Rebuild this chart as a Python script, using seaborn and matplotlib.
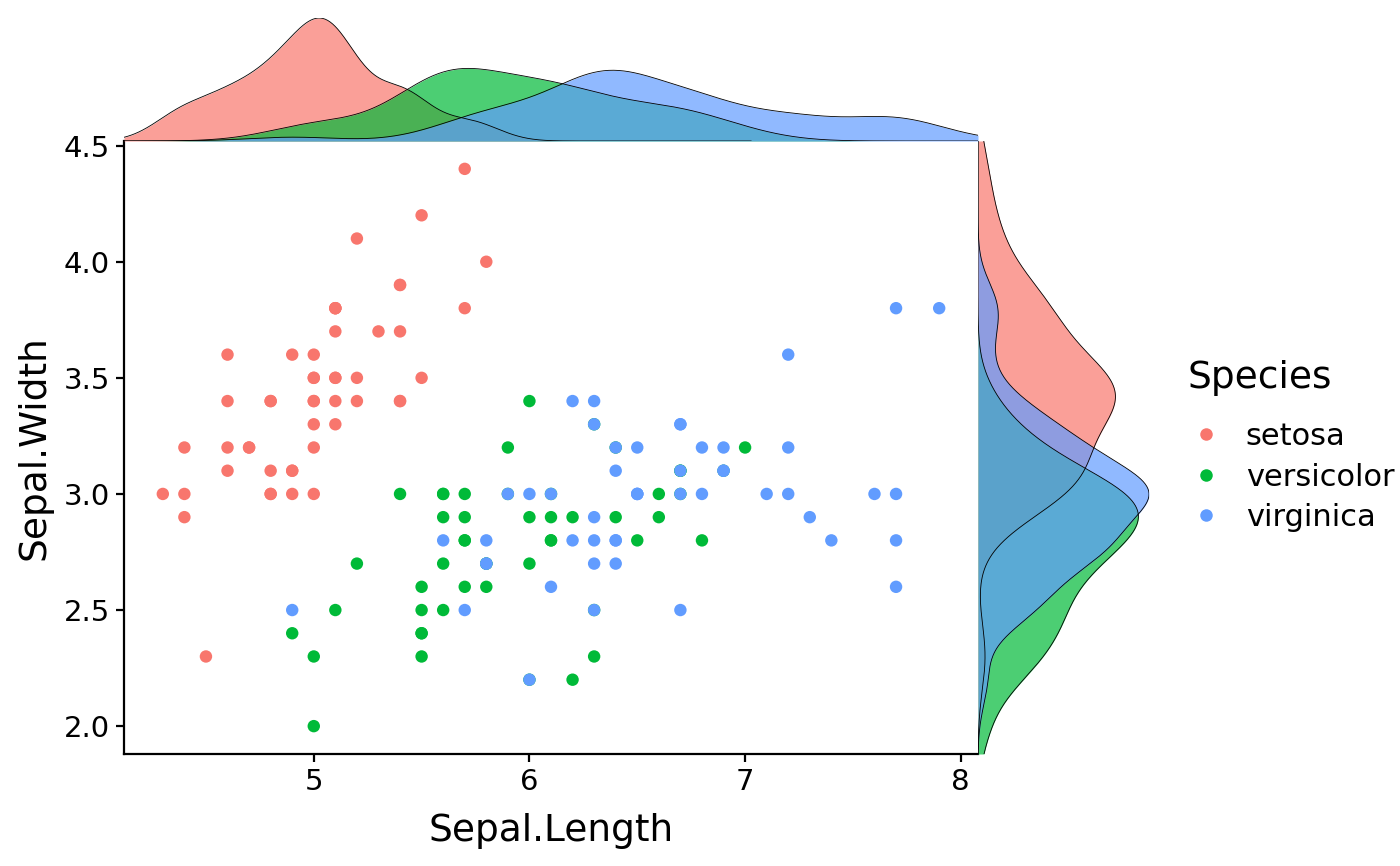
import numpy as np
import pandas as pd
import matplotlib
matplotlib.use('Agg')
import matplotlib.pyplot as plt
from matplotlib.lines import Line2D
import seaborn as sns

# iris sepal measurements, by species
setosa_length = [5.1, 4.9, 4.7, 4.6, 5.0, 5.4, 4.6, 5.0, 4.4, 4.9, 5.4, 4.8, 4.8, 4.3, 5.8, 5.7, 5.4,
                 5.1, 5.7, 5.1, 5.4, 5.1, 4.6, 5.1, 4.8, 5.0, 5.0, 5.2, 5.2, 4.7, 4.8, 5.4, 5.2, 5.5,
                 4.9, 5.0, 5.5, 4.9, 4.4, 5.1, 5.0, 4.5, 4.4, 5.0, 5.1, 4.8, 5.1, 4.6, 5.3, 5.0]
setosa_width = [3.5, 3.0, 3.2, 3.1, 3.6, 3.9, 3.4, 3.4, 2.9, 3.1, 3.7, 3.4, 3.0, 3.0, 4.0, 4.4, 3.9,
                3.5, 3.8, 3.8, 3.4, 3.7, 3.6, 3.3, 3.4, 3.0, 3.4, 3.5, 3.4, 3.2, 3.1, 3.4, 4.1, 4.2,
                3.1, 3.2, 3.5, 3.6, 3.0, 3.4, 3.5, 2.3, 3.2, 3.5, 3.8, 3.0, 3.8, 3.2, 3.7, 3.3]
versicolor_length = [7.0, 6.4, 6.9, 5.5, 6.5, 5.7, 6.3, 4.9, 6.6, 5.2, 5.0, 5.9, 6.0, 6.1, 5.6, 6.7,
                     5.6, 5.8, 6.2, 5.6, 5.9, 6.1, 6.3, 6.1, 6.4, 6.6, 6.8, 6.7, 6.0, 5.7, 5.5, 5.5,
                     5.8, 6.0, 5.4, 6.0, 6.7, 6.3, 5.6, 5.5, 5.5, 6.1, 5.8, 5.0, 5.6, 5.7, 5.7, 6.2,
                     5.1, 5.7]
versicolor_width = [3.2, 3.2, 3.1, 2.3, 2.8, 2.8, 3.3, 2.4, 2.9, 2.7, 2.0, 3.0, 2.2, 2.9, 2.9, 3.1,
                    3.0, 2.7, 2.2, 2.5, 3.2, 2.8, 2.5, 2.8, 2.9, 3.0, 2.8, 3.0, 2.9, 2.6, 2.4, 2.4,
                    2.7, 2.7, 3.0, 3.4, 3.1, 2.3, 3.0, 2.5, 2.6, 3.0, 2.6, 2.3, 2.7, 3.0, 2.9, 2.9,
                    2.5, 2.8]
virginica_length = [6.3, 5.8, 7.1, 6.3, 6.5, 7.6, 4.9, 7.3, 6.7, 7.2, 6.5, 6.4, 6.8, 5.7, 5.8, 6.4,
                    6.5, 7.7, 7.7, 6.0, 6.9, 5.6, 7.7, 6.3, 6.7, 7.2, 6.2, 6.1, 6.4, 7.2, 7.4, 7.9,
                    6.4, 6.3, 6.1, 7.7, 6.3, 6.4, 6.0, 6.9, 6.7, 6.9, 5.8, 6.8, 6.7, 6.7, 6.3, 6.5,
                    6.2, 5.9]
virginica_width = [3.3, 2.7, 3.0, 2.9, 3.0, 3.0, 2.5, 2.9, 2.5, 3.6, 3.2, 2.7, 3.0, 2.5, 2.8, 3.2,
                   3.0, 3.8, 2.6, 2.2, 3.2, 2.8, 2.8, 2.7, 3.3, 3.2, 2.8, 3.0, 2.8, 3.0, 2.8, 3.8,
                   2.8, 2.8, 2.6, 3.0, 3.4, 3.1, 3.0, 3.1, 3.1, 3.1, 2.7, 3.2, 3.3, 3.0, 2.5, 3.0,
                   3.4, 3.0]

species = ['setosa', 'versicolor', 'virginica']
colors = {'setosa': '#F8766D', 'versicolor': '#00BA38', 'virginica': '#619CFF'}

df = pd.concat([
    pd.DataFrame({'Sepal.Length': setosa_length, 'Sepal.Width': setosa_width, 'Species': 'setosa'}),
    pd.DataFrame({'Sepal.Length': versicolor_length, 'Sepal.Width': versicolor_width, 'Species': 'versicolor'}),
    pd.DataFrame({'Sepal.Length': virginica_length, 'Sepal.Width': virginica_width, 'Species': 'virginica'}),
], ignore_index=True)

sns.set_theme(style='ticks')
plt.rcParams['font.family'] = ['DejaVu Sans']
plt.rcParams['text.color'] = 'black'

W, H = 1400, 866
fig = plt.figure(figsize=(W / 100, H / 100), dpi=100)
ax = fig.add_axes([124 / W, 112 / H, 854 / W, 613 / H])
ax_top = fig.add_axes([124 / W, 725 / H, 854 / W, 123 / H])
ax_right = fig.add_axes([978 / W, 112 / H, 171 / W, 613 / H])

# limits like ggplot: data range plus 5%
def expanded(vals):
    lo, hi = min(vals), max(vals)
    pad = (hi - lo) * 0.05
    return lo - pad, hi + pad

xlim = expanded(df['Sepal.Length'])
ylim = expanded(df['Sepal.Width'])

sns.scatterplot(data=df, x='Sepal.Length', y='Sepal.Width', hue='Species', palette=colors,
                s=80, linewidth=0, legend=False, ax=ax)
ax.set_xlim(xlim)
ax.set_ylim(ylim)
ax.set_xticks([5, 6, 7, 8])
ax.set_yticks([2.0, 2.5, 3.0, 3.5, 4.0, 4.5])
ax.set_yticklabels(['2.0', '2.5', '3.0', '3.5', '4.0', '4.5'])
ax.tick_params(labelsize=21, length=6, width=1.6, color='black', labelcolor='black', pad=4)
ax.set_xlabel('Sepal.Length', fontsize=27, color='black', labelpad=12)
ax.set_ylabel('Sepal.Width', fontsize=27, color='black', labelpad=8)
sns.despine(ax=ax)
for sp in ['left', 'bottom']:
    ax.spines[sp].set_linewidth(1.6)
    ax.spines[sp].set_color('black')


def nrd0(vals):
    # R's default bandwidth, expressed as a scipy factor
    v = np.asarray(vals)
    sd = v.std(ddof=1)
    iqr = np.subtract(*np.percentile(v, [75, 25]))
    bw = 0.9 * min(sd, iqr / 1.34) * len(v) ** -0.2
    return bw / sd


for sp in species:
    sub = df[df['Species'] == sp]
    sns.kdeplot(x=sub['Sepal.Length'], ax=ax_top, fill=True, color=colors[sp], alpha=0.7,
                bw_method=nrd0(sub['Sepal.Length']), cut=10, clip=xlim, gridsize=512,
                linewidth=0)
    sns.kdeplot(x=sub['Sepal.Length'], ax=ax_top, color='black', linewidth=0.6,
                bw_method=nrd0(sub['Sepal.Length']), cut=10, clip=xlim, gridsize=512)
    sns.kdeplot(y=sub['Sepal.Width'], ax=ax_right, fill=True, color=colors[sp], alpha=0.7,
                bw_method=nrd0(sub['Sepal.Width']), cut=10, clip=ylim, gridsize=512,
                linewidth=0)
    sns.kdeplot(y=sub['Sepal.Width'], ax=ax_right, color='black', linewidth=0.6,
                bw_method=nrd0(sub['Sepal.Width']), cut=10, clip=ylim, gridsize=512)

ax_top.set_xlim(xlim)
ax_top.margins(y=0)
ax_top.set_ylim(bottom=0)
ax_right.set_ylim(ylim)
ax_right.margins(x=0)
ax_right.set_xlim(left=0)
for a in (ax_top, ax_right):
    a.set_axis_off()

# legend: title as its own text, keys below it
fig.text(1187 / W, 1 - 378 / H, 'Species', fontsize=27, color='black', va='center', ha='left')
handles = [Line2D([0], [0], marker='o', linestyle='none', markersize=9,
                  markerfacecolor=colors[sp], markeredgewidth=0) for sp in species]
leg = fig.legend(handles, species, loc='center left',
                 bbox_to_anchor=(1188 / W, 1 - 477 / H), frameon=False, fontsize=22,
                 handlelength=1.2, handletextpad=0.69, labelspacing=0.38,
                 borderpad=0, borderaxespad=0)
for t in leg.get_texts():
    t.set_color('black')

fig.savefig('out.png', dpi=100, facecolor='white')
